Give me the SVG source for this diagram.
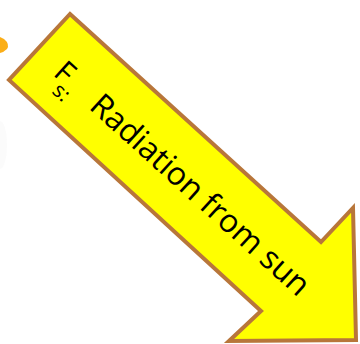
<svg xmlns="http://www.w3.org/2000/svg" width="360" height="344" viewBox="0 0 360 344">
  <style>
    .arrow { fill: #FFFF00; stroke: #B8763A; stroke-width: 4; stroke-linejoin: miter; }
    .lbl { font-family: "Open Sans", "Liberation Sans", sans-serif; fill: #000000; }
  </style>
  <rect width="360" height="344" fill="#FFFFFF"/>
  <g id="sun-fragment">
    <path d="M0,37 L4,39 Q10,44 7,49 Q4,52 0,53 Z" fill="#FBAE17"/>
    <ellipse cx="0" cy="145" rx="7" ry="24" fill="#F4F4F4" opacity="0.4"/>
  </g>
  <g id="radiation-arrow">
    <polygon class="arrow" points="70,14 321,242 353,208 356,340 229,341 261,311 9,80"/>
    <g transform="translate(88,108) rotate(42.1)">
      <text class="lbl" x="-49" y="-1" font-size="30">F</text>
      <text class="lbl" x="-38" y="13" font-size="21">s:</text>
      <text class="lbl" x="0" y="0" font-size="32" textLength="283" lengthAdjust="spacing">Radiation from sun</text>
    </g>
  </g>
</svg>
